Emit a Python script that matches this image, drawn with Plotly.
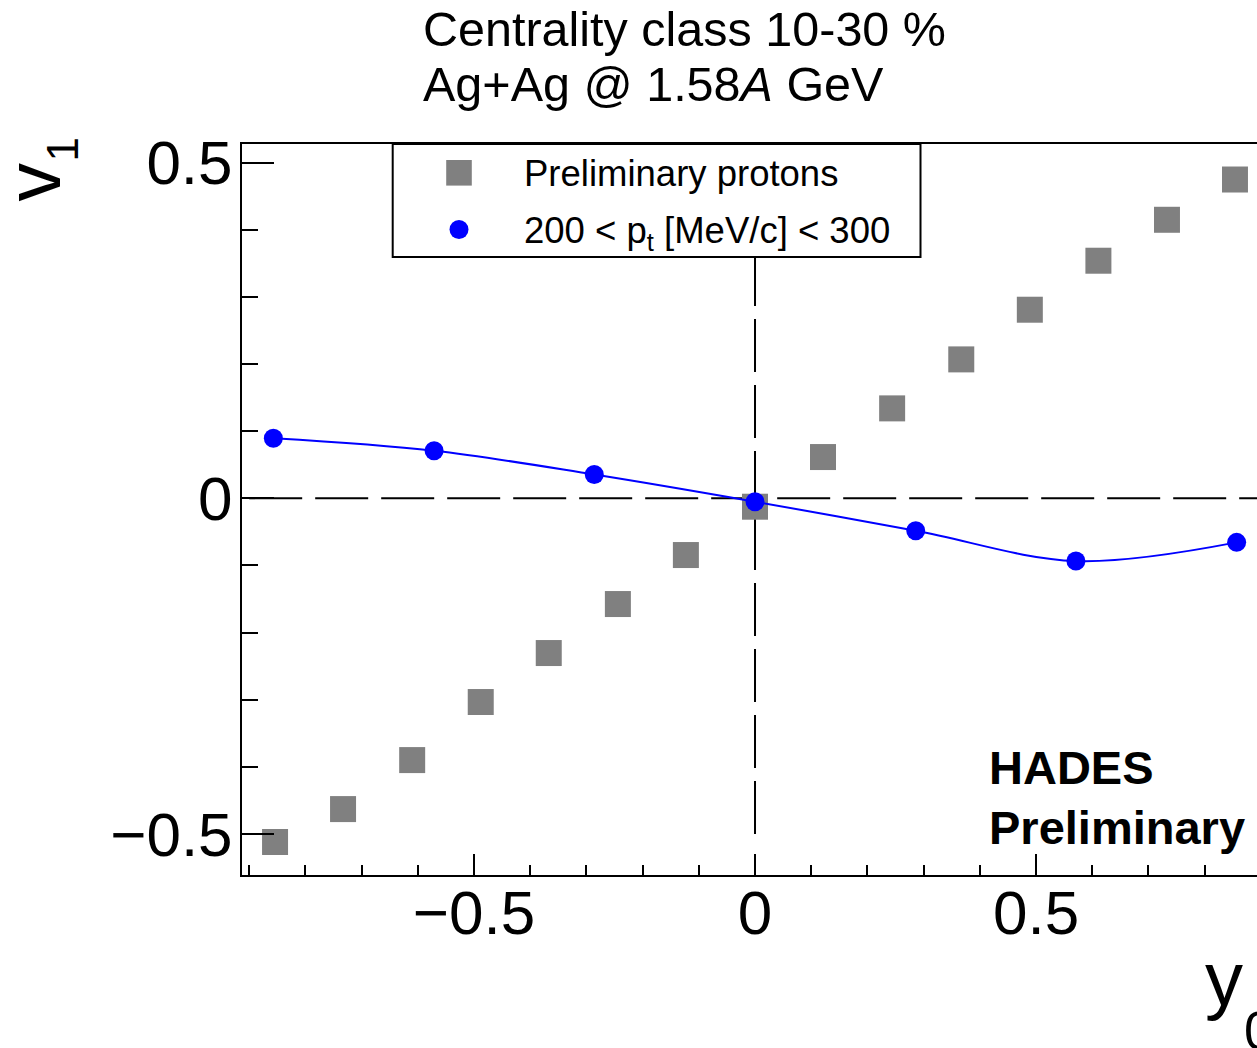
import plotly.graph_objects as go

# ---------------- data ----------------
proton_y0 = [-0.854, -0.733, -0.610, -0.488, -0.367, -0.244, -0.123, 0.0,
             0.121, 0.244, 0.367, 0.489, 0.611, 0.733, 0.854]
proton_v1 = [-0.512, -0.463, -0.390, -0.3035, -0.2305, -0.1575, -0.0845, -0.0125,
             0.0615, 0.134, 0.207, 0.281, 0.354, 0.415, 0.475]

pt_y0 = [-0.857, -0.571, -0.286, 0.0, 0.286, 0.571, 0.857]
pt_v1 = [0.0894, 0.0708, 0.0355, -0.005, -0.0483, -0.0934, -0.0656]

x_ticks = [-0.5, 0, 0.5]
y_ticks = [-0.5, 0, 0.5]
tick_text = ["\u22120.5", "0", "0.5"]
x_range = [-0.9128, 0.8932]
y_range = [-0.5612, 0.5279]

legend_labels = ["Preliminary protons", "200 &lt; p<sub>t</sub> [MeV/c] &lt; 300"]
title_lines = ["Centrality class 10-30 %", "Ag+Ag @ 1.58<i>A</i> GeV"]
stamp_lines = ["<b>HADES</b>", "<b>Preliminary</b>"]

# ---------------- geometry helpers ----------------
W, H = 1257, 1048
L, R, T, B = 242, 1257, 144, 875
FONT = "Liberation Sans, Arial, Helvetica, sans-serif"


def px(X):
    return (X - L) / (R - L)


def py(Y):
    return (B - Y) / (B - T)


fig = go.Figure()

fig.add_trace(go.Scatter(
    x=proton_y0, y=proton_v1, mode="markers",
    marker=dict(symbol="square", size=26, color="#808080", line=dict(width=0)),
    name="Preliminary protons", showlegend=False, cliponaxis=False))

fig.add_trace(go.Scatter(
    x=pt_y0, y=pt_v1, mode="lines+markers",
    line=dict(shape="spline", smoothing=1.0, color="#0000ff", width=2),
    marker=dict(symbol="circle", size=19, color="#0000ff", line=dict(width=0)),
    name="200 < pt < 300", showlegend=False, cliponaxis=False))

shapes = [
    dict(type="line", xref="x", yref="y", x0=-0.9, x1=0.9, y0=0, y1=0,
         line=dict(color="black", width=2, dash="53px,13px"), layer="below"),
    dict(type="line", xref="x", yref="y", x0=0, x1=0, y0=-0.5, y1=0.5,
         line=dict(color="black", width=2, dash="53px,13px"), layer="below"),
    # legend box
    dict(type="rect", xref="paper", yref="paper", x0=px(392.7), x1=px(920.5),
         y0=py(257), y1=py(144), fillcolor="white",
         line=dict(color="black", width=2), layer="above"),
    # legend symbols
    dict(type="rect", xref="paper", yref="paper", xsizemode="pixel", ysizemode="pixel",
         xanchor=px(459), yanchor=py(172.8), x0=-12.8, x1=12.8, y0=-12.8, y1=12.8,
         fillcolor="#808080", line=dict(width=0), layer="above"),
    dict(type="circle", xref="paper", yref="paper", xsizemode="pixel", ysizemode="pixel",
         xanchor=px(459), yanchor=py(229.5), x0=-9.5, x1=9.5, y0=-9.5, y1=9.5,
         fillcolor="#0000ff", line=dict(width=0), layer="above"),
]

ann = []


def text(s, X, baseline, size, **kw):
    ann.append(dict(text=s, x=px(X - 3), y=py(baseline - 0.905 * size - 1),
                    xref="paper", yref="paper",
                    xanchor="left", yanchor="top", showarrow=False,
                    font=dict(family=FONT, size=size, color="black"), **kw))


# title lines
text(title_lines[0], 424, 45, 48.5)
text(title_lines[1], 424, 100, 48.5)
# legend texts
text(legend_labels[0], 525, 185, 36.5)
text(legend_labels[1], 525, 241.7, 36.5)
# HADES stamp
text(stamp_lines[0], 990, 783, 47)
text(stamp_lines[1], 990, 843, 47)
# x-axis title y_0
text("y", 1206, 1004, 76)
text("0", 1245, 1048, 53)
# y-axis title v_1 (rotated)
ann.append(dict(text="v", x=px(77), y=py(204), xref="paper", yref="paper",
                xanchor="right", yanchor="bottom", textangle=-90, showarrow=False,
                font=dict(family=FONT, size=77, color="black")))
ann.append(dict(text="1", x=px(88), y=py(164), xref="paper", yref="paper",
                xanchor="right", yanchor="bottom", textangle=-90, showarrow=False,
                font=dict(family=FONT, size=44, color="black")))

axis_common = dict(
    showgrid=False, zeroline=False, showline=True, linecolor="black", linewidth=2,
    ticks="inside", tickcolor="black", tickwidth=2,
    tickfont=dict(family=FONT, size=62, color="black"),
    automargin=False,
)

fig.update_layout(
    width=W, height=H,
    margin=dict(l=L, r=W - R, t=T, b=H - B, pad=0),
    paper_bgcolor="white", plot_bgcolor="white",
    showlegend=False,
    shapes=shapes, annotations=ann,
    xaxis=dict(range=x_range, tickvals=x_ticks, ticktext=tick_text,
               ticklen=21, mirror=True,
               minor=dict(ticks="inside", ticklen=10, dtick=0.1, tick0=0,
                          tickcolor="black", tickwidth=2),
               ticklabelstandoff=-17, **axis_common),
    yaxis=dict(range=y_range, tickvals=y_ticks, ticktext=tick_text,
               ticklen=32, mirror=False,
               minor=dict(ticks="inside", ticklen=16, dtick=0.1, tick0=0,
                          tickcolor="black", tickwidth=2),
               ticklabelstandoff=-5, **axis_common),
)

fig.write_html(
    "out.html",
    config={"displayModeBar": False},
    post_script="document.body.style.margin='0';document.body.style.overflow='hidden';",
)
